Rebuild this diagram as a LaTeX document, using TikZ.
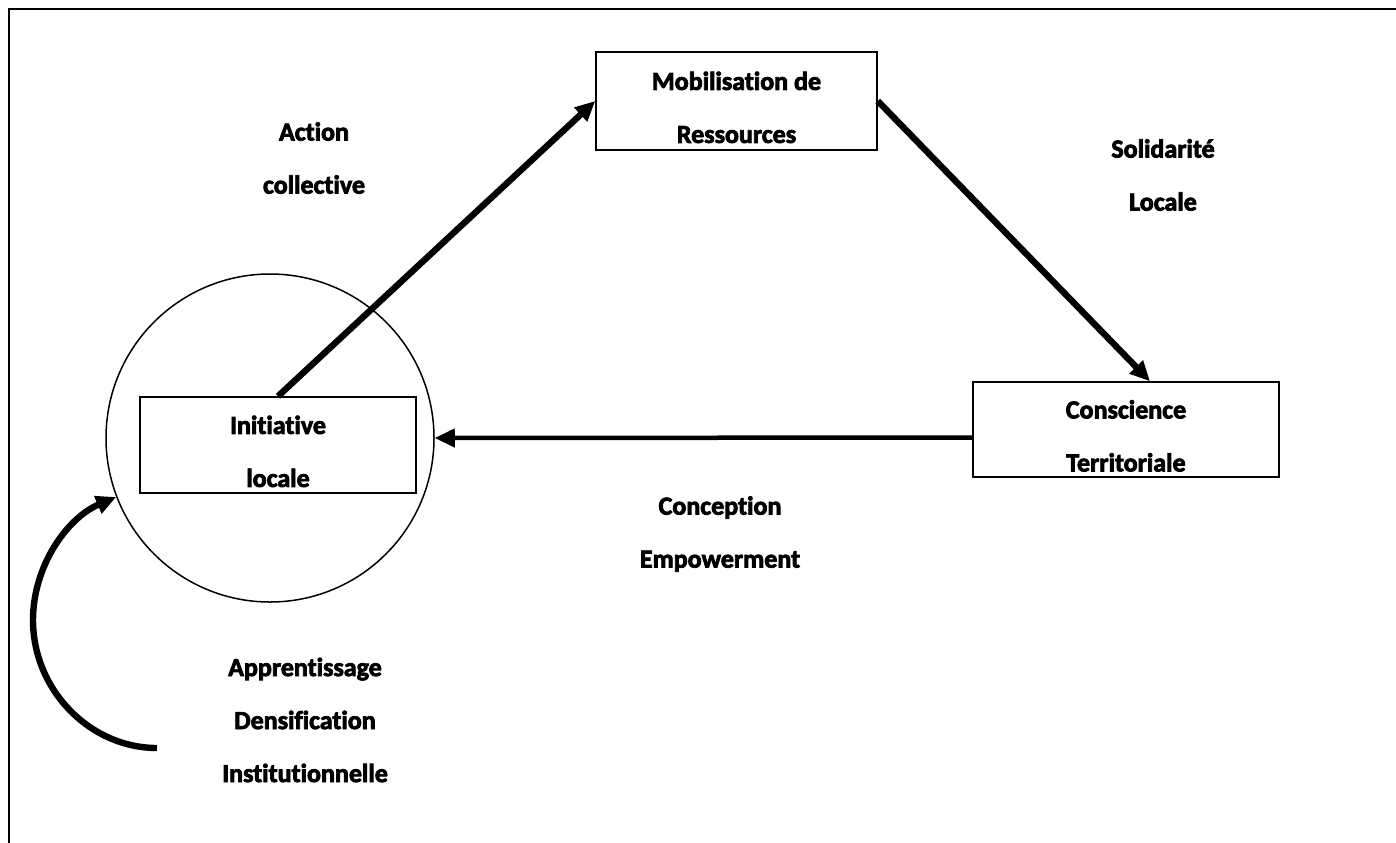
\documentclass[tikz,border=0pt]{standalone}
\usepackage{fontspec}
\setmainfont{Carlito}[Ligatures=NoCommon, BoldFeatures={FakeBold=3}]
\usetikzlibrary{arrows.meta}

\newcommand{\haut}{\rule{0pt}{15.5pt}}

\begin{document}
\begin{tikzpicture}[x=0.5pt, y=-0.5pt,
  every node/.style={font=\fontsize{13}{26.5}\selectfont\bfseries, align=center},
  boite/.style={draw, line width=0.75pt, inner sep=0pt},
  fleche/.style={line width=3.2pt, -{Triangle[length=10pt,width=9pt]}}]
  \useasboundingbox (0,0) rectangle (1396,842);
  \draw[line width=1pt] (9,860) |- (1410,9);
  \node[circle, draw, line width=0.75pt, minimum size=164pt, inner sep=0pt] (cercle) at (270,438) {};
  \node[boite, minimum width=138pt, minimum height=48pt] (initiative) at (278,445) {\haut Initiative\\locale};
  \node[boite, minimum width=140.5pt, minimum height=49pt] (mobil) at (736.5,101) {\haut Mobilisation de\\Ressources};
  \node[boite, minimum width=153pt, minimum height=47.5pt] (conscience) at (1126,429.5) {\haut Conscience\\Territoriale};
  \node (action) at (314,158) {Action\\collective};
  \node (solidarite) at (1163,175) {Solidarité\\Locale};
  \node (conception) at (720,534) {Conception\\Empowerment};
  \node (apprentissage) at (305,720) {Apprentissage\\Densification\\Institutionnelle};
  \coordinate (boucle) at (157,748);
  \draw[fleche] (initiative.north) -- (mobil.west);
  \draw[fleche] (mobil.east) -- ([xshift=12pt]conscience.north);
  \draw[fleche, line width=2.25pt] ([yshift=-4pt]conscience.west) -- (cercle.east);
  \draw[fleche] (boucle) .. controls (90,748) and (33,690) .. (33,620)
    .. controls (33,566) and (67,518) .. (cercle.201);
\end{tikzpicture}
\end{document}
